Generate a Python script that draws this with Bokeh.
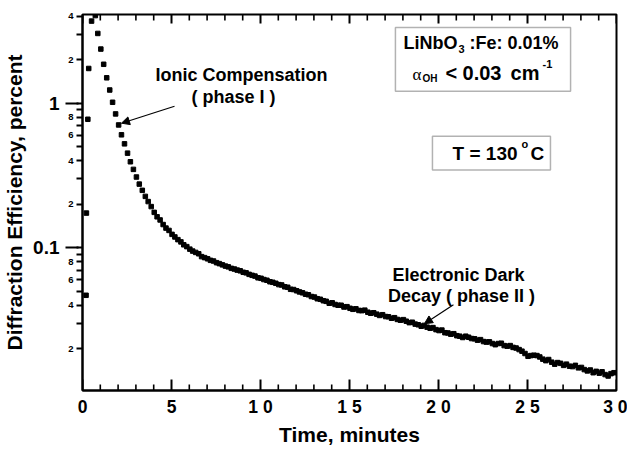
import math
from bokeh.plotting import figure
from bokeh.models import (Range1d, LogAxis, FixedTicker, Label, BoxAnnotation,
                          Arrow, NormalHead, CustomJSTickFormatter)
from bokeh.embed import file_html
from bokeh.resources import INLINE

# ---------------- data ----------------
# first samples during grating build-up (minutes, percent)
rise_time = [0.20, 0.22, 0.30, 0.35, 0.51, 0.72]
rise_eff = [0.047, 0.174, 0.775, 1.74, 3.7, 4.04]

# decay samples, one every ~10 s (minutes)
decay_time = [
    0.86, 1.03, 1.19, 1.36, 1.53, 1.69,
    1.86, 2.03, 2.19, 2.36, 2.53, 2.69,
    2.86, 3.03, 3.19, 3.36, 3.53, 3.69,
    3.86, 4.03, 4.19, 4.36, 4.53, 4.69,
    4.86, 5.03, 5.19, 5.36, 5.53, 5.69,
    5.86, 6.03, 6.19, 6.36, 6.53, 6.69,
    6.86, 7.03, 7.19, 7.36, 7.53, 7.69,
    7.86, 8.03, 8.19, 8.36, 8.53, 8.69,
    8.86, 9.03, 9.19, 9.36, 9.53, 9.69,
    9.86, 10.03, 10.19, 10.36, 10.53, 10.69,
    10.86, 11.03, 11.19, 11.36, 11.53, 11.69,
    11.86, 12.03, 12.19, 12.36, 12.53, 12.69,
    12.86, 13.03, 13.19, 13.36, 13.53, 13.69,
    13.86, 14.03, 14.19, 14.36, 14.53, 14.69,
    14.86, 15.03, 15.19, 15.36, 15.53, 15.69,
    15.86, 16.03, 16.19, 16.36, 16.53, 16.69,
    16.86, 17.03, 17.19, 17.36, 17.53, 17.69,
    17.86, 18.03, 18.19, 18.36, 18.53, 18.69,
    18.86, 19.03, 19.19, 19.36, 19.53, 19.69,
    19.86, 20.03, 20.19, 20.36, 20.53, 20.69,
    20.86, 21.03, 21.19, 21.36, 21.53, 21.69,
    21.86, 22.03, 22.19, 22.36, 22.53, 22.69,
    22.86, 23.03, 23.19, 23.36, 23.53, 23.69,
    23.86, 24.03, 24.19, 24.36, 24.53, 24.69,
    24.86, 25.03, 25.19, 25.36, 25.53, 25.69,
    25.86, 26.03, 26.19, 26.36, 26.53, 26.69,
    26.86, 27.03, 27.19, 27.36, 27.53, 27.69,
    27.86, 28.03, 28.19, 28.36, 28.53, 28.69,
    28.86, 29.03, 29.19, 29.36, 29.53, 29.69,
    29.86,
]
decay_eff = [
    3.04, 2.37, 1.86, 1.50, 1.235, 1.016,
    0.844, 0.708, 0.605, 0.524, 0.452, 0.394,
    0.349, 0.309, 0.276, 0.250, 0.227, 0.209,
    0.193, 0.176, 0.164, 0.156, 0.145, 0.137,
    0.132, 0.124, 0.119, 0.114, 0.110, 0.105,
    0.102, 0.098, 0.095, 0.093, 0.091, 0.087,
    0.0856, 0.0840, 0.0820, 0.0811, 0.0790, 0.0778,
    0.0763, 0.0748, 0.0739, 0.0722, 0.0714, 0.0702,
    0.0694, 0.0678, 0.0672, 0.0656, 0.0646, 0.0638,
    0.0621, 0.0616, 0.0604, 0.0597, 0.0583, 0.0578,
    0.0569, 0.0557, 0.0554, 0.0538, 0.0534, 0.0517,
    0.0515, 0.0505, 0.0496, 0.0489, 0.0478, 0.0474,
    0.0461, 0.0457, 0.0445, 0.0441, 0.0431, 0.0427,
    0.0414, 0.0417, 0.0406, 0.0401, 0.0401, 0.0390,
    0.0392, 0.0382, 0.0376, 0.0379, 0.0369, 0.0368,
    0.0371, 0.0359, 0.0353, 0.0356, 0.0348, 0.0341,
    0.0345, 0.0335, 0.0334, 0.0326, 0.0329, 0.0320,
    0.0316, 0.0319, 0.0311, 0.0304, 0.0306, 0.0297,
    0.0294, 0.0287, 0.0291, 0.0283, 0.0278, 0.0281,
    0.0272, 0.0268, 0.0270, 0.0259, 0.0258, 0.0253,
    0.0255, 0.0247, 0.0245, 0.0240, 0.0245, 0.0241,
    0.0236, 0.0235, 0.0230, 0.0232, 0.0225, 0.0223,
    0.0224, 0.0218, 0.0214, 0.0218, 0.0219, 0.0211,
    0.0209, 0.0211, 0.0205, 0.0203, 0.0198, 0.0193,
    0.0186, 0.0178, 0.0180, 0.0181, 0.0180, 0.0176,
    0.0170, 0.0166, 0.0169, 0.0162, 0.0157, 0.0161,
    0.0159, 0.0154, 0.0157, 0.0152, 0.0151, 0.0154,
    0.0148, 0.0149, 0.0144, 0.0141, 0.0143, 0.0137,
    0.0140, 0.0136, 0.0139, 0.0133, 0.0130, 0.0135,
    0.0137,
]

x_major_ticks = [0, 5, 10, 15, 20, 25, 30]
x_minor_ticks = [1, 2, 3, 4, 6, 7, 8, 9, 11, 12, 13, 14, 16, 17, 18, 19,
                 21, 22, 23, 24, 26, 27, 28, 29]
y_decade_ticks = [0.1, 1]
y_all_ticks = [0.02, 0.03, 0.04, 0.05, 0.06, 0.07, 0.08, 0.09, 0.1,
               0.2, 0.3, 0.4, 0.5, 0.6, 0.7, 0.8, 0.9, 1, 2, 3, 4]
y_small_label_values = [0.02, 0.04, 0.06, 0.08, 0.2, 0.4, 0.6, 0.8, 2, 4]
y_small_label_texts = ["2", "4", "6", "8", "2", "4", "6", "8", "2", "4"]

X_RANGE = (0, 30)
Y_RANGE = (0.01032, 4.11)

FONT = "Liberation Sans"
FRAME_W, FRAME_H = 534, 376

# ---------------- figure ----------------
p = figure(frame_width=FRAME_W, frame_height=FRAME_H,
           x_range=Range1d(*X_RANGE), y_range=Range1d(*Y_RANGE),
           y_axis_type="log", output_backend="svg", toolbar_location=None,
           min_border_left=0, min_border_right=11, min_border_top=14, min_border_bottom=54,
           background_fill_color="white", border_fill_color="white")
p.xgrid.visible = False
p.ygrid.visible = False
p.outline_line_color = "black"
p.outline_line_width = 2
p.outline_line_alpha = 1.0

# bottom axis (labels only; the inward ticks are drawn as segments below)
xa = p.below[0]
xa.ticker = FixedTicker(ticks=x_major_ticks)
xa.formatter = CustomJSTickFormatter(code="return String(tick).split('').join(' ');")
xa.major_tick_in = 0
xa.major_tick_out = 0
xa.minor_tick_in = 0
xa.minor_tick_out = 0
xa.axis_line_width = 2
xa.major_label_text_font = FONT
xa.major_label_text_font_style = "bold"
xa.major_label_text_font_size = "17.5px"
xa.major_label_text_color = "black"
xa.major_label_standoff = 6
xa.axis_label = "Time, minutes"
xa.axis_label_text_font = FONT
xa.axis_label_text_font_style = "bold"
xa.axis_label_text_font_size = "21px"
xa.axis_label_text_color = "black"
xa.axis_label_standoff = 3

# inner left axis: all ticks, small digit labels
ya = p.left[0]
ya.ticker = FixedTicker(ticks=y_all_ticks)
ya.formatter = CustomJSTickFormatter(
    args=dict(vals=y_small_label_values, labs=y_small_label_texts),
    code="""
    for (let i = 0; i < vals.length; i++) {
        if (Math.abs(vals[i] - tick) < 1e-6 * vals[i]) return labs[i];
    }
    return '';
    """)
ya.major_tick_out = 6
ya.major_tick_in = 0
ya.minor_tick_out = 0
ya.minor_tick_in = 0
ya.major_tick_line_width = 2
ya.axis_line_width = 2
ya.major_label_text_font = FONT
ya.major_label_text_font_style = "bold"
ya.major_label_text_font_size = "9.5px"
ya.major_label_text_color = "black"
ya.major_label_standoff = 3

# outer left axis: decade labels (with long ticks reaching the frame) and the title
ya2 = LogAxis(ticker=FixedTicker(ticks=y_decade_ticks),
              formatter=CustomJSTickFormatter(code="return String(tick);"),
              major_tick_out=0, major_tick_in=13, minor_tick_out=0, minor_tick_in=0,
              major_tick_line_width=2, major_tick_line_color="black",
              axis_line_color=None,
              major_label_text_font=FONT, major_label_text_font_style="bold",
              major_label_text_font_size="19px", major_label_text_color="black",
              major_label_standoff=6,
              axis_label="Diffraction Efficiency, percent",
              axis_label_text_font=FONT, axis_label_text_font_style="bold",
              axis_label_text_font_size="21px", axis_label_text_color="black",
              axis_label_standoff=4)
p.add_layout(ya2, "left")

# inward ticks on the bottom and top edges (tick length in px -> factor on log axis)
px_per_decade = FRAME_H / math.log10(Y_RANGE[1] / Y_RANGE[0])
def fac(px):
    return 10 ** (px / px_per_decade)

def inward_ticks(xs, length_px, top, width):
    if top:
        y0 = [Y_RANGE[1]] * len(xs)
        y1 = [Y_RANGE[1] / fac(length_px)] * len(xs)
    else:
        y0 = [Y_RANGE[0]] * len(xs)
        y1 = [Y_RANGE[0] * fac(length_px)] * len(xs)
    p.segment(x0=xs, y0=y0, x1=xs, y1=y1, line_color="black", line_width=width)

inward_ticks(x_major_ticks, 11, False, 2.0)
inward_ticks(x_minor_ticks, 6, False, 1.6)
inward_ticks(x_major_ticks, 9, True, 2.0)
inward_ticks(x_minor_ticks, 6, True, 1.6)

# ---------------- data points ----------------
p.scatter(rise_time, rise_eff, marker="square", size=4.5, color="black")
p.scatter(decay_time, decay_eff, marker="square", size=4.5, color="black")

# ---------------- annotations ----------------
def lbl(x, y, text, size="18px", align="left", style="bold", font=FONT, dx=0):
    p.add_layout(Label(x=x, y=y, x_offset=dx, text=text, text_align=align,
                       text_baseline="middle", text_font=font, text_font_style=style,
                       text_font_size=size, text_color="black"))

# Ionic compensation
lbl(8.93, 1.56, "Ionic Compensation", align="center")
lbl(8.48, 1.10, "( phase I )", align="center")
p.add_layout(Arrow(end=NormalHead(size=8, fill_color="black", line_color="black", line_width=1),
                   x_start=5.17, y_start=0.953, x_end=2.19, y_end=0.728,
                   line_color="black", line_width=1.2))

# Electronic dark decay
lbl(21.12, 0.0651, "Electronic Dark", align="center")
lbl(21.29, 0.0467, "Decay ( phase II )", align="center")
p.add_layout(Arrow(end=NormalHead(size=8, fill_color="black", line_color="black", line_width=1),
                   x_start=20.84, y_start=0.0404, x_end=19.21, y_end=0.0299,
                   line_color="black", line_width=1.2))

# material box
p.add_layout(BoxAnnotation(left=17.58, right=27.42, bottom=1.21, top=3.34,
                           fill_alpha=0, line_color="black", line_width=1.5))
L1x = 18.03
lbl(L1x, 2.593, "LiNbO", size="18px")
lbl(L1x, 2.357, "3", size="11px", dx=55)
lbl(L1x, 2.593, ":Fe: 0.01%", size="18px", dx=66)
L2x = 18.54
lbl(L2x, 1.585, "α", size="17px", style="normal", font="Liberation Serif")
lbl(L2x, 1.487, "OH", size="10px", dx=10)
lbl(L2x, 1.610, "<", size="20px", dx=33)
lbl(L2x, 1.610, "0.03", size="20px", dx=50)
lbl(L2x, 1.610, "cm", size="20px", dx=98)
lbl(L2x, 1.858, "-1", size="11px", dx=130)

# temperature box
p.add_layout(BoxAnnotation(left=19.66, right=26.29, bottom=0.345, top=0.592,
                           fill_alpha=0, line_color="black", line_width=1.5))
L3x = 20.79
lbl(L3x, 0.452, "T = 130", size="19px")
lbl(L3x, 0.522, "o", size="11px", dx=69)
lbl(L3x, 0.452, "C", size="19px", dx=78)

open("out.html", "w").write(file_html(p, INLINE))
